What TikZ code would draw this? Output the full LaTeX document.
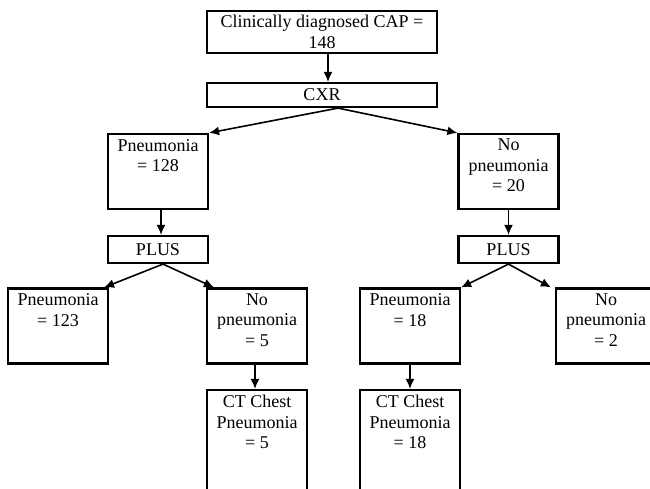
\documentclass[tikz,border=0pt]{standalone}
\usepackage{fontspec}
\setmainfont{Liberation Serif}
\usetikzlibrary{arrows.meta}

\begin{document}
\begin{tikzpicture}[x=1pt,y=-1pt,
    box/.style={draw, line width=2.2pt, minimum width=100pt, minimum height=75pt, inner sep=0pt},
    lbl/.style={align=center, anchor=north, inner sep=0pt, font=\fontsize{18}{20.5}\selectfont},
    arr/.style={-{Latex[length=10pt,width=9pt]}, line width=1.6pt}]
        \useasboundingbox (0,0) rectangle (650,489);

        % top of the tree
        \node[box, minimum width=230pt, minimum height=42pt, align=center, font=\fontsize{18}{20.5}\selectfont] (cap) at (322,32) {Clinically diagnosed CAP =\\148};
        \node[box, minimum width=230pt, minimum height=24pt, font=\fontsize{18}{20.5}\selectfont] (cxr) at (322,95) {CXR};

        % CXR result
        \node[box] (pn128) at (158,171.5) {};
        \node[lbl] (t128) at ([yshift=-6pt]pn128.north) {Pneumonia\\= 128};
        \node[box] (nopn20) at (508.5,171.5) {};
        \node[lbl] (t20) at ([yshift=-6pt]nopn20.north) {No\\pneumonia\\= 20};

        % PLUS
        \node[box, minimum height=27pt, font=\fontsize{18}{20.5}\selectfont] (plusL) at (158,249.5) {PLUS};
        \node[box, minimum height=27pt, font=\fontsize{18}{20.5}\selectfont] (plusR) at (508.5,249.5) {PLUS};

        % PLUS result
        \node[box] (pn123) at (58,326) {};
        \node[lbl] (t123) at ([yshift=-6pt]pn123.north) {Pneumonia\\= 123};
        \node[box] (nopn5) at (257,326) {};
        \node[lbl] (t5) at ([yshift=-6pt]nopn5.north) {No\\pneumonia\\= 5};
        \node[box] (pn18) at (410,326) {};
        \node[lbl] (t18) at ([yshift=-6pt]pn18.north) {Pneumonia\\= 18};
        \node[box] (nopn2) at (606,326) {};
        \node[lbl] (t2) at ([yshift=-6pt]nopn2.north) {No\\pneumonia\\= 2};

        % CT chest
        \node[box, minimum height=115pt] (ct5) at (257,447.5) {};
        \node[lbl] (tct5) at ([yshift=-6pt]ct5.north) {CT Chest\\Pneumonia\\= 5};
        \node[box, minimum height=115pt] (ct18) at (410,447.5) {};
        \node[lbl] (tct18) at ([yshift=-6pt]ct18.north) {CT Chest\\Pneumonia\\= 18};

        \draw[arr] ([xshift=6pt]cap.south) -- ([xshift=6pt]cxr.north);
        \draw[arr] ([xshift=16pt]cxr.south) -- (pn128.north east);
        \draw[arr] ([xshift=16pt]cxr.south) -- (nopn20.north west);
        \draw[arr] ([xshift=3pt]pn128.south) -- ([xshift=3pt]plusL.north);
        \draw[arr] (nopn20.south) -- (plusR.north);
        \draw[arr] ([xshift=5pt]plusL.south) -- ([xshift=-5pt]pn123.north east);
        \draw[arr] ([xshift=5pt]plusL.south) -- ([xshift=8pt]nopn5.north west);
        \draw[arr] (plusR.south) -- (pn18.north east);
        \draw[arr] (plusR.south) -- ([xshift=-4pt]nopn2.north west);
        \draw[arr] ([xshift=-2pt]nopn5.south) -- ([xshift=-2pt]ct5.north);
        \draw[arr] (pn18.south) -- (ct18.north);
    \end{tikzpicture}
\end{document}
